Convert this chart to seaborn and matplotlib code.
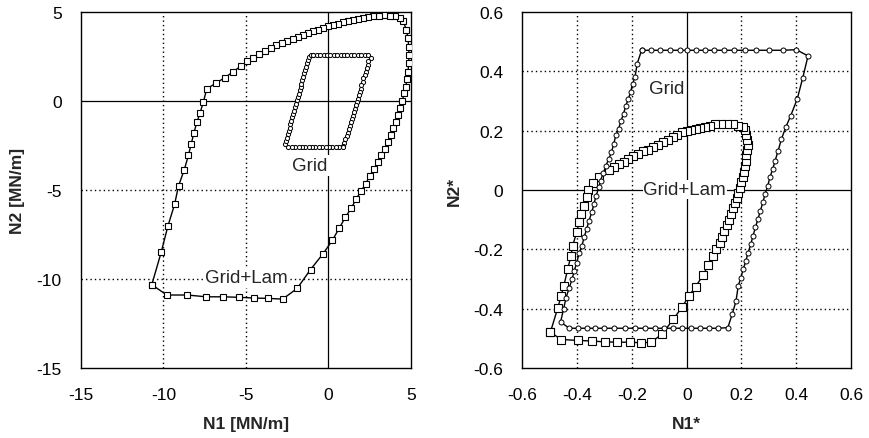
import matplotlib
matplotlib.use("Agg")
import matplotlib.pyplot as plt
import seaborn as sns
import pandas as pd

sns.set_style("white")
plt.rcParams['font.family'] = ['Liberation Sans', 'DejaVu Sans']

# ---------------- data: left panel (N1, N2 in MN/m) ----------------
left_gridlam_x = [-10.71, -9.80, -8.55, -7.42, -6.37, -5.40, -4.50, -3.65, -2.78,
                  -1.90, -1.09, -0.32, 0.24, 0.65, 1.03, 1.39, 1.69, 1.96, 2.26, 2.50,
                  2.76, 3.00, 3.21, 3.41, 3.61, 3.77, 3.91, 4.07, 4.21, 4.35, 4.48, 4.58,
                  4.68, 4.76, 4.82, 4.86, 4.88, 4.86, 4.82, 4.72, 4.52,
                  4.31, 4.01, 3.71, 3.35, 3.04, 2.70, 2.40, 2.09, 1.79, 1.49, 1.19, 0.88,
                  0.58, 0.28, -0.02, -0.33, -0.63, -0.93, -1.23, -1.54,
                  -1.85, -2.18, -2.52, -2.84, -3.19, -3.51, -3.85, -4.19, -4.56, -4.92,
                  -5.30, -5.77, -6.27, -6.83, -7.38,
                  -7.58, -7.78, -7.98, -8.15, -8.32, -8.49, -8.75, -9.09, -9.33, -9.74,
                  -10.14, -10.71]
left_gridlam_y = [-10.32, -10.90, -10.90, -11.00, -11.00, -11.03, -11.07, -11.09, -11.13,
                  -10.53, -9.47, -8.57, -7.82, -7.14, -6.52, -6.00, -5.49, -5.08, -4.64,
                  -4.21, -3.80, -3.42, -3.05, -2.67, -2.29, -1.92, -1.54, -1.17, -0.79,
                  -0.41, 0.00, 0.43, 0.81, 1.22, 1.65, 2.12, 2.59, 3.06, 3.53, 4.00, 4.51,
                  4.66, 4.76, 4.79, 4.82, 4.79, 4.76, 4.70, 4.66, 4.61, 4.53, 4.48, 4.42,
                  4.34, 4.29, 4.20, 4.10, 4.00, 3.91, 3.82, 3.72,
                  3.61, 3.50, 3.38, 3.25, 3.12, 2.97, 2.82, 2.65, 2.44, 2.22,
                  1.97, 1.65, 1.32, 1.00, 0.68,
                  -0.04, -0.66, -1.20, -1.77, -2.41, -3.05, -3.89, -4.77, -5.81, -7.05,
                  -8.50, -10.32]

left_grid_x = [-0.93, -0.72, -0.51, -0.30, -0.10, 0.11, 0.32, 0.53, 0.74, 0.95, 1.15,
               1.36, 1.57, 1.78, 1.98, 2.19, 2.40, 2.56,
               2.42, 2.37, 2.31, 2.25, 2.19, 2.12, 2.07, 2.00, 1.94, 1.88, 1.82, 1.76,
               1.70, 1.64, 1.58, 1.53, 1.47, 1.41, 1.35, 1.29, 1.23, 1.17, 1.10, 1.03,
               0.96, 0.89, 0.85,
               0.65, 0.44, 0.24, 0.03, -0.17, -0.38, -0.58, -0.79, -0.99, -1.20, -1.40,
               -1.61, -1.81, -2.02, -2.22, -2.44, -2.64,
               -2.58, -2.53, -2.47, -2.42, -2.36, -2.31, -2.25, -2.20, -2.14, -2.08,
               -2.03, -1.97, -1.92, -1.86, -1.80, -1.75, -1.69, -1.64, -1.58, -1.53,
               -1.47, -1.41, -1.36, -1.30, -1.25, -1.19, -1.08, -0.93]
left_grid_y = [2.59, 2.59, 2.59, 2.59, 2.59, 2.59, 2.59, 2.59, 2.59, 2.59, 2.59,
               2.59, 2.59, 2.59, 2.59, 2.59, 2.59, 2.41,
               2.22, 2.03, 1.84, 1.65, 1.46, 1.27, 1.08, 0.89, 0.70, 0.51, 0.32, 0.13,
               -0.06, -0.25, -0.44, -0.63, -0.82, -1.01, -1.20, -1.39, -1.58, -1.77,
               -1.96, -2.15, -2.34, -2.53, -2.60,
               -2.60, -2.60, -2.60, -2.60, -2.60, -2.60, -2.60, -2.60, -2.60, -2.60,
               -2.60, -2.60, -2.60, -2.60, -2.60, -2.60, -2.44,
               -2.25, -2.06, -1.87, -1.68, -1.49, -1.30, -1.11, -0.92, -0.73, -0.54,
               -0.35, -0.16, 0.03, 0.22, 0.41, 0.60, 0.79, 0.98, 1.17, 1.36,
               1.55, 1.74, 1.93, 2.12, 2.31, 2.50, 2.58, 2.59]

# ---------------- data: right panel (normalised N1*, N2*) ----------------
right_grid_x = [-0.165, -0.132, -0.097, -0.062, -0.024, 0.000, 0.034, 0.067, 0.101,
                0.137, 0.172, 0.212, 0.254, 0.300, 0.350, 0.400, 0.443,
                0.424, 0.404, 0.380, 0.362, 0.346, 0.334, 0.323, 0.314, 0.304, 0.296,
                0.286, 0.278, 0.269, 0.260, 0.251, 0.242, 0.234, 0.224, 0.216, 0.206,
                0.198, 0.188, 0.180, 0.166, 0.150,
                0.113, 0.080, 0.048, 0.014, -0.019, -0.051, -0.084, -0.117, -0.153,
                -0.189, -0.225, -0.267, -0.303, -0.335, -0.366, -0.399, -0.429, -0.461,
                -0.450, -0.441, -0.429, -0.419, -0.411, -0.402, -0.393, -0.383, -0.375,
                -0.366, -0.357, -0.347, -0.339, -0.331, -0.321, -0.315, -0.305, -0.295,
                -0.285, -0.275, -0.267, -0.259, -0.249, -0.241, -0.231, -0.223, -0.213,
                -0.205, -0.198, -0.189, -0.181, -0.165]
right_grid_y = [0.471, 0.471, 0.471, 0.471, 0.471, 0.471, 0.471, 0.471, 0.471,
                0.471, 0.471, 0.471, 0.471, 0.471, 0.471, 0.473, 0.452,
                0.379, 0.308, 0.251, 0.212, 0.172, 0.133, 0.099, 0.071, 0.043, 0.015,
                -0.014, -0.042, -0.070, -0.098, -0.126, -0.154, -0.183, -0.211, -0.239,
                -0.267, -0.295, -0.323, -0.374, -0.419, -0.464,
                -0.466, -0.466, -0.466, -0.466, -0.466, -0.466, -0.466, -0.466, -0.466,
                -0.466, -0.466, -0.466, -0.466, -0.466, -0.466, -0.466, -0.466, -0.445,
                -0.402, -0.363, -0.329, -0.301, -0.273, -0.245, -0.213, -0.188, -0.160,
                -0.132, -0.104, -0.075, -0.047, -0.019, 0.009, 0.032, 0.057, 0.082,
                0.105, 0.127, 0.155, 0.184, 0.206, 0.231, 0.257, 0.283, 0.308,
                0.330, 0.358, 0.381, 0.426, 0.471]

right_gridlam_x = [-0.498, -0.459, -0.399, -0.347, -0.299, -0.255, -0.207, -0.168, -0.129,
                   -0.090, -0.049, -0.016, 0.008, 0.032, 0.060, 0.078, 0.096, 0.108,
                   0.120, 0.128, 0.137, 0.146, 0.154, 0.162, 0.170, 0.176, 0.182, 0.188,
                   0.194, 0.200, 0.206, 0.210, 0.213, 0.216, 0.218, 0.220, 0.222, 0.219,
                   0.217, 0.212, 0.206,
                   0.188, 0.170, 0.146, 0.125, 0.104, 0.086, 0.068, 0.050, 0.032, 0.017,
                   0.000, -0.016, -0.034, -0.051, -0.069, -0.087, -0.105, -0.123, -0.141,
                   -0.159, -0.177, -0.195, -0.213, -0.231, -0.249, -0.267, -0.285,
                   -0.321, -0.341, -0.359, -0.366, -0.375, -0.387, -0.393, -0.402,
                   -0.417, -0.423, -0.435, -0.449, -0.459, -0.471, -0.498]
right_gridlam_y = [-0.479, -0.504, -0.507, -0.509, -0.512, -0.513, -0.513, -0.515, -0.513,
                   -0.485, -0.436, -0.393, -0.357, -0.326, -0.287, -0.254, -0.222, -0.199,
                   -0.177, -0.157, -0.137, -0.118, -0.100, -0.081, -0.062, -0.044, -0.028,
                   -0.010, 0.006, 0.026, 0.043, 0.062, 0.082, 0.099, 0.118, 0.136, 0.153,
                   0.170, 0.186, 0.201, 0.214,
                   0.217, 0.221, 0.223, 0.223, 0.221, 0.217, 0.214, 0.210, 0.206, 0.203,
                   0.198, 0.195, 0.186, 0.178, 0.169, 0.161, 0.152, 0.144, 0.136,
                   0.130, 0.122, 0.114, 0.105, 0.096, 0.086, 0.079, 0.069,
                   0.045, 0.023, 0.001, -0.025, -0.053, -0.081, -0.109, -0.143,
                   -0.188, -0.222, -0.267, -0.323, -0.357, -0.397, -0.479]

left_ticks = [-15, -10, -5, 0, 5]
left_ticklabels = ["-15", "-10", "-5", "0", "5"]
right_ticks = [-0.6, -0.4, -0.2, 0.0, 0.2, 0.4, 0.6]
right_ticklabels = ["-0.6", "-0.4", "-0.2", "0", "0.2", "0.4", "0.6"]

# ---------------- figure ----------------
W, H = 870, 439
fig = plt.figure(figsize=(W / 100, H / 100), dpi=100)
axL = fig.add_axes([81 / W, 1 - 369 / H, 330 / W, 356 / H])
axR = fig.add_axes([522.5 / W, 1 - 369 / H, 328.5 / W, 356 / H])

DOT = (0, (1, 2.2))


def draw_loop(ax, xs, ys, marker, ms, mew):
    df = pd.DataFrame({"x": xs, "y": ys})
    sns.lineplot(data=df, x="x", y="y", sort=False, estimator=None, ax=ax,
                 color="black", lw=1.0, marker=marker, markersize=ms,
                 markerfacecolor="white", markeredgecolor="black",
                 markeredgewidth=mew, zorder=3)


def style_axes(ax, ticks, labels, xlabel, ylabel):
    lo, hi = ticks[0], ticks[-1]
    for t in ticks[1:-1]:
        if abs(t) < 1e-9:
            ax.axvline(t, color="black", lw=0.9, zorder=1)
            ax.axhline(t, color="black", lw=0.9, zorder=1)
        else:
            ax.axvline(t, color="black", lw=1.0, ls=DOT, zorder=1)
            ax.axhline(t, color="black", lw=1.0, ls=DOT, zorder=1)
    ax.set_xlim(lo, hi)
    ax.set_ylim(lo, hi)
    ax.set_xticks(ticks)
    ax.set_xticklabels(labels)
    ax.set_yticks(ticks)
    ax.set_yticklabels(labels)
    ax.tick_params(length=0, labelsize=12.5, colors="black")
    ax.tick_params(axis="x", pad=14)
    ax.tick_params(axis="y", pad=14)
    for s in ax.spines.values():
        s.set_color("black")
        s.set_linewidth(1.0)
        s.set_visible(True)
    ax.set_xlabel(xlabel, fontsize=12.5, fontweight="bold", labelpad=10)
    ax.set_ylabel(ylabel, fontsize=12.5, fontweight="bold", labelpad=8)
    ax.grid(False)


style_axes(axL, left_ticks, left_ticklabels, "N1 [MN/m]", "N2 [MN/m]")
style_axes(axR, right_ticks, right_ticklabels, "N1*", "N2*")

draw_loop(axL, left_gridlam_x, left_gridlam_y, "s", 5.0, 0.8)
draw_loop(axL, left_grid_x, left_grid_y, "o", 3.0, 0.7)
draw_loop(axR, right_gridlam_x, right_gridlam_y, "s", 5.3, 0.8)
draw_loop(axR, right_grid_x, right_grid_y, "o", 3.6, 0.7)

box = dict(facecolor="white", edgecolor="none", pad=1.5)
axL.text(-1.13, -3.61, "Grid", ha="center", va="center", fontsize=13.5, bbox=box, zorder=4)
axL.text(-5.0, -9.9, "Grid+Lam", ha="center", va="center", fontsize=13.5, bbox=box, zorder=4)
axR.text(-0.075, 0.341, "Grid", ha="center", va="center", fontsize=13.5, bbox=box, zorder=4)
axR.text(-0.007, 0.001, "Grid+Lam", ha="center", va="center", fontsize=13.5,
         bbox=dict(facecolor="white", edgecolor="none", pad=0.5), zorder=4)

fig.savefig("out.png", dpi=100)
